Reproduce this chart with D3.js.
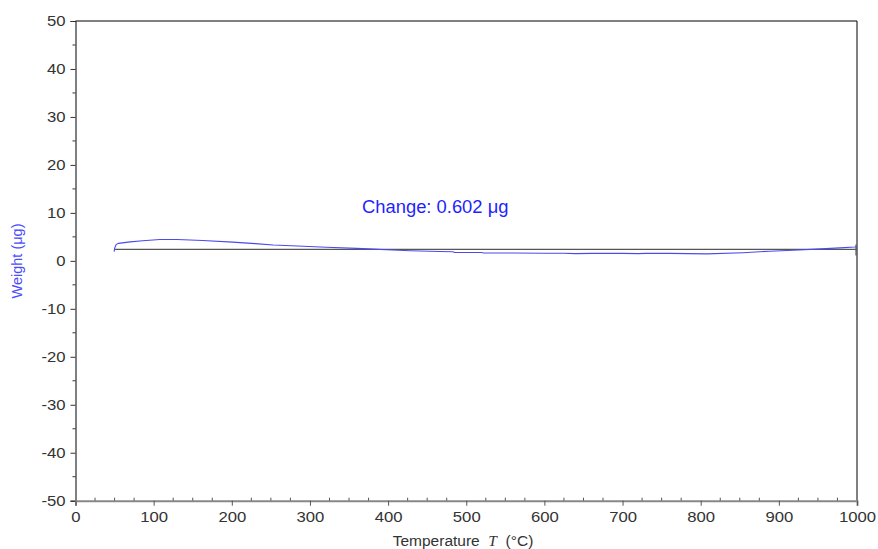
<!DOCTYPE html>
<html><head><meta charset="utf-8">
<script src="https://cdn.jsdelivr.net/npm/d3@7"></script>
<style>body{margin:0;background:#fff;} text{font-family:"Liberation Sans",Arial,sans-serif;}</style>
</head><body><svg id="c" width="878" height="549"></svg>
<script>
const temps   = [49.5, 50, 52, 55, 70, 86, 108, 130, 163, 201, 230, 253, 284, 321, 360, 381, 398, 428, 466, 483, 485, 520, 522, 560, 600, 625, 640, 660, 700, 720, 730, 760, 808, 854, 888, 918, 948, 978, 997, 1000];
const weights = [1.9, 2.6, 3.4, 3.65, 3.95, 4.2, 4.45, 4.45, 4.25, 3.9, 3.6, 3.3, 3.1, 2.85, 2.6, 2.45, 2.3, 2.1, 1.95, 1.9, 1.75, 1.75, 1.65, 1.65, 1.6, 1.6, 1.5, 1.55, 1.55, 1.5, 1.55, 1.55, 1.45, 1.7, 2.0, 2.2, 2.45, 2.7, 2.9, 2.95];
const baseline = {t0: 50, t1: 1000, w: 2.4};
const endMarker = {t: 1000, w0: 1.1, w1: 3.4};
const xTicks = [0,100,200,300,400,500,600,700,800,900,1000];
const yTicks = [50,40,30,20,10,0,-10,-20,-30,-40,-50];
const changeLabel = "Change: 0.602 μg";

const svg = d3.select("#c");
const x = d3.scaleLinear().domain([0,1000]).range([75.5,857]);
const y = d3.scaleLinear().domain([-50,50]).range([500.7,21]);

function stretch(sel, k){
  sel.each(function(){
    const w = this.getComputedTextLength();
    d3.select(this).attr("textLength", w*k).attr("lengthAdjust","spacingAndGlyphs");
  });
}

// frame top/right
svg.append("line").attr("x1",x(0)).attr("x2",x(1000)).attr("y1",y(50)).attr("y2",y(50)).attr("stroke","#000").attr("stroke-width",1);
svg.append("line").attr("x1",x(1000)).attr("x2",x(1000)).attr("y1",y(50)).attr("y2",y(-50)).attr("stroke","#000").attr("stroke-width",1);

// y axis
const yAx = svg.append("g").attr("transform",`translate(${x(0)},0)`)
  .call(d3.axisLeft(y).tickValues(yTicks).tickSize(5).tickPadding(5).tickFormat(d=>String(d)));
yAx.select(".domain").attr("stroke","#000");
yAx.selectAll(".tick line").attr("stroke","#333");
yAx.selectAll("text").attr("font-size",14.5).attr("fill","#333").call(stretch,1.15);
yAx.append("g").selectAll("line").data(d3.range(-45,50,10)).join("line")
  .attr("x1",0).attr("x2",-3).attr("y1",d=>y(d)).attr("y2",d=>y(d)).attr("stroke","#333");

// x axis
const xAx = svg.append("g").attr("transform",`translate(0,${y(-50)})`)
  .call(d3.axisBottom(x).tickValues(xTicks).tickSize(5).tickPadding(6).tickFormat(d=>String(d)));
xAx.select(".domain").attr("stroke","#888").attr("stroke-width",2);
xAx.selectAll(".tick line").attr("stroke","#555");
xAx.selectAll("text").attr("font-size",14.5).attr("fill","#333").call(stretch,1.15);
xAx.append("g").selectAll("line").data(d3.range(25,1000,25).filter(d=>d%100!==0)).join("line")
  .attr("x1",d=>x(d)).attr("x2",d=>x(d)).attr("y1",0).attr("y2",-3).attr("stroke","#555");

// baseline
svg.append("line").attr("x1",x(baseline.t0)).attr("x2",x(baseline.t1)).attr("y1",y(baseline.w)).attr("y2",y(baseline.w))
  .attr("stroke","#555").attr("stroke-width",1.2);
svg.append("line").attr("x1",x(endMarker.t)-1).attr("x2",x(endMarker.t)-1).attr("y1",y(endMarker.w0)).attr("y2",y(endMarker.w1))
  .attr("stroke","#555").attr("stroke-width",1.2);

// curve
const pts = temps.map((t,i)=>[t,weights[i]]);
svg.append("path").datum(pts).attr("fill","none").attr("stroke","#4a4aee").attr("stroke-width",1.1)
  .attr("d", d3.line().x(d=>x(d[0])).y(d=>y(d[1])));

// annotation
svg.append("text").attr("x",362).attr("y",213).attr("font-size",17.5).attr("fill","#1f1fff").text(changeLabel).call(stretch,1.05);

// axis titles
svg.append("text").attr("transform","translate(22,261) rotate(-90)").attr("text-anchor","middle")
  .attr("font-size",14.5).attr("fill","#4b4bff").text("Weight (μg)");
const xt = svg.append("text").attr("x",463).attr("y",546).attr("text-anchor","middle").attr("font-size",15.5).attr("fill","#333");
xt.append("tspan").text("Temperature\u00a0\u00a0");
xt.append("tspan").attr("font-family","'Liberation Serif',serif").attr("font-style","italic").text("T");
xt.append("tspan").text("\u00a0\u00a0(°C)");
</script></body></html>
